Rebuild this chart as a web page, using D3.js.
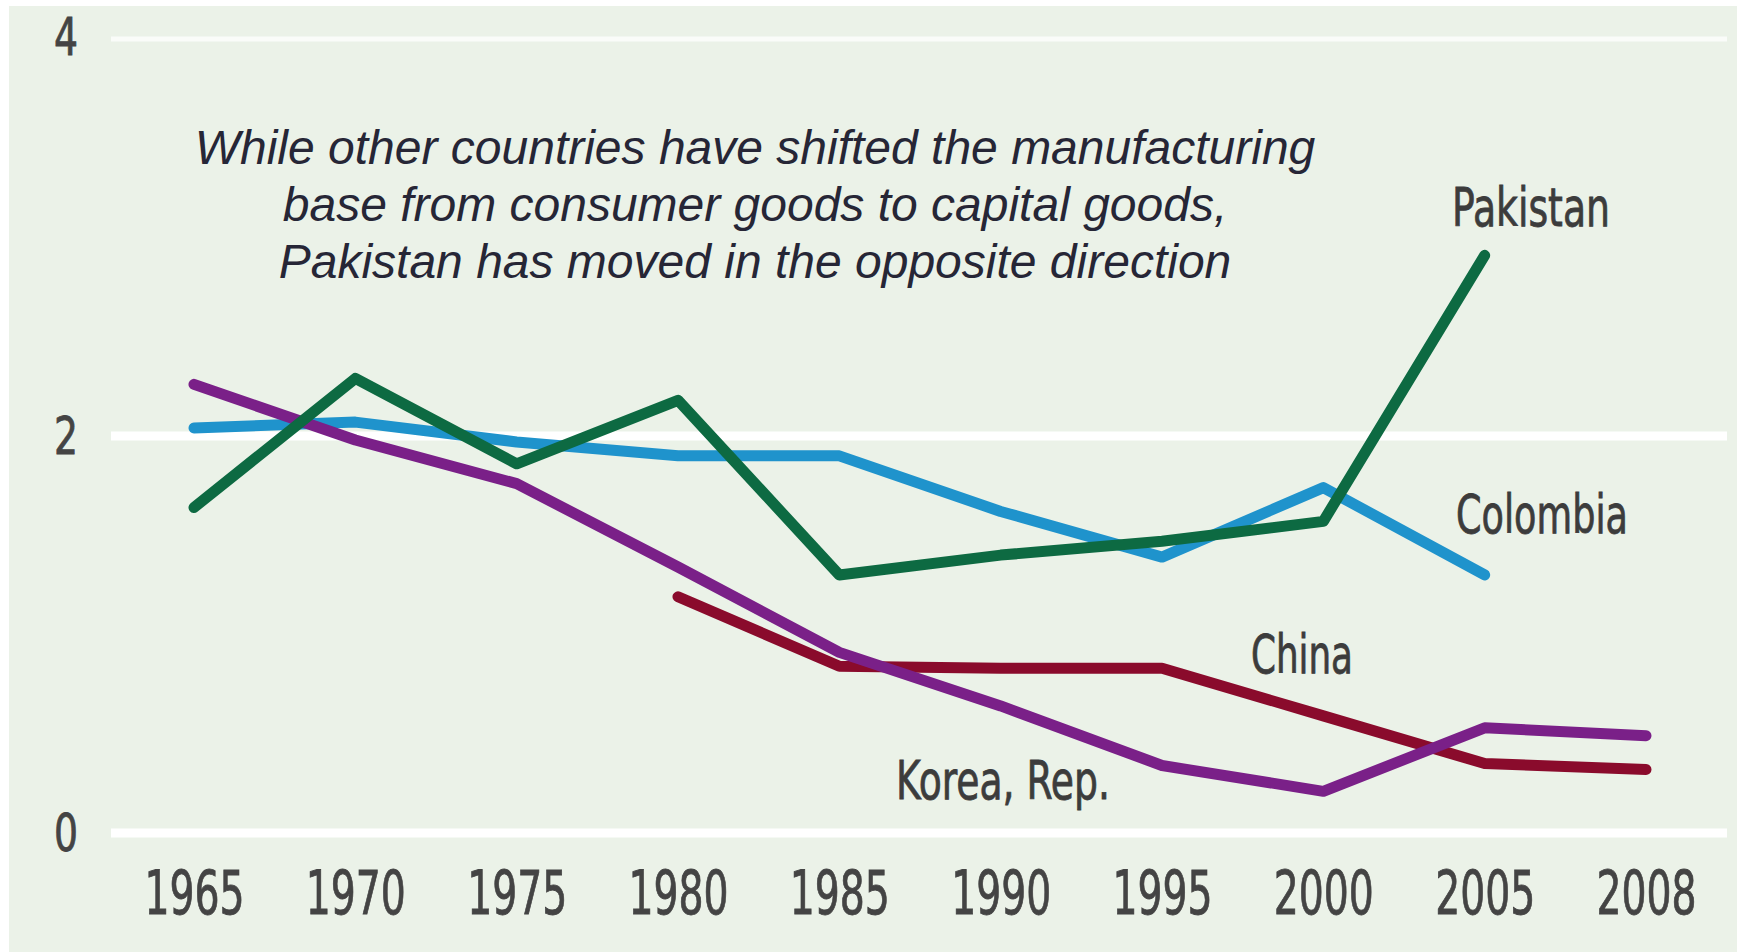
<!DOCTYPE html>
<html>
<head>
<meta charset="utf-8">
<script src="https://cdn.jsdelivr.net/npm/d3@7"></script>
<style>
  html, body { margin: 0; padding: 0; background: #ffffff; }
  svg { display: block; }
</style>
</head>
<body>
<svg id="chart" width="1737" height="952"></svg>
<script>
// ---- data ----
const years = ["1965", "1970", "1975", "1980", "1985", "1990", "1995", "2000", "2005", "2008"];
const yTicks = [0, 2, 4];
const pakistan = [1.64, 2.29, 1.86, 2.18, 1.30, 1.40, 1.47, 1.57, 2.91, null];
const colombia = [2.04, 2.07, 1.97, 1.90, 1.90, 1.62, 1.39, 1.74, 1.30, null];
const korea    = [2.26, 1.98, 1.76, 1.34, 0.91, 0.64, 0.34, 0.21, 0.53, 0.49];
const china    = [null, null, null, 1.19, 0.84, 0.83, 0.83, 0.59, 0.35, 0.32];
const seriesNames = ["China", "Colombia", "Korea, Rep.", "Pakistan"];
const seriesColors = ["#8a0b2c", "#1f93cc", "#7a2088", "#0d6a42"];
const annotation = [
  "While other countries have shifted the manufacturing",
  "base from consumer goods to capital goods,",
  "Pakistan has moved in the opposite direction"
];

const seriesValues = [china, colombia, korea, pakistan];

const svg = d3.select("#chart");
const W = 1737, H = 952;

// background panel
svg.append("rect").attr("x", 9).attr("y", 6).attr("width", W - 9).attr("height", H - 6)
  .attr("fill", "#ebf2e8");

const x = d3.scalePoint().domain(years).range([194, 1646]);
const y = d3.scaleLinear().domain([0, 4]).range([833, 39]);

const narrow = "'Liberation Sans Narrow', 'Arial Narrow', 'DejaVu Sans Condensed', sans-serif";

// gridlines
const grid = svg.append("g");
yTicks.forEach(t => {
  grid.append("line")
    .attr("x1", 111).attr("x2", 1727)
    .attr("y1", y(t)).attr("y2", y(t))
    .attr("stroke", "#ffffff")
    .attr("stroke-width", t === 4 ? 5 : 9)
    .attr("stroke-opacity", t === 4 ? 0.75 : 1);
});

// y axis (labels only)
const yAxis = d3.axisLeft(y).tickValues(yTicks).tickSize(0).tickPadding(0).tickFormat(d3.format("d"));
const yg = svg.append("g").attr("transform", "translate(80,0)").call(yAxis);
yg.select(".domain").remove();
yg.selectAll("text")
  .attr("font-family", narrow).attr("font-size", 52).attr("fill", "#444444")
  .attr("stroke", "#444444").attr("stroke-width", 0.8)
  .attr("text-anchor", "middle").attr("x", -14).attr("dy", "0.34em")
  .attr("textLength", 24).attr("lengthAdjust", "spacingAndGlyphs");
yg.selectAll(".tick").filter(d => d === 4).select("text").attr("dy", "0.3em");

// x axis (labels only)
const xAxis = d3.axisBottom(x).tickSize(0).tickPadding(0);
const xg = svg.append("g").attr("transform", "translate(0,914)").call(xAxis);
xg.select(".domain").remove();
xg.selectAll("text")
  .attr("font-family", narrow).attr("font-size", 60).attr("fill", "#444444")
  .attr("stroke", "#444444").attr("stroke-width", 0.8)
  .attr("dy", 0).attr("y", 0)
  .attr("textLength", 100).attr("lengthAdjust", "spacingAndGlyphs");

// lines
const line = d3.line()
  .defined(d => d.v !== null)
  .x(d => x(d.year))
  .y(d => y(d.v));

seriesValues.forEach((vals, i) => {
  const pts = years.map((yr, j) => ({ year: yr, v: vals[j] }));
  svg.append("path")
    .datum(pts)
    .attr("d", line)
    .attr("fill", "none")
    .attr("stroke", seriesColors[i])
    .attr("stroke-width", 11)
    .attr("stroke-linecap", "round")
    .attr("stroke-linejoin", "round");
});

// series labels
const labels = [
  { name: "Pakistan", x: 1531, y: 226, w: 158 },
  { name: "Colombia", x: 1542, y: 533, w: 172 },
  { name: "China", x: 1302, y: 673, w: 102 },
  { name: "Korea, Rep.", x: 1003, y: 799, w: 214 }
];
svg.append("g").selectAll("text").data(labels).join("text")
  .attr("x", d => d.x).attr("y", d => d.y)
  .attr("text-anchor", "middle")
  .attr("font-family", narrow).attr("font-size", 54).attr("fill", "#3c3c3c")
  .attr("stroke", "#3c3c3c").attr("stroke-width", 0.8)
  .attr("textLength", d => d.w).attr("lengthAdjust", "spacingAndGlyphs")
  .text(d => d.name);

// annotation
svg.append("g").selectAll("text").data(annotation).join("text")
  .attr("x", 755).attr("y", (d, i) => 164 + i * 57)
  .attr("text-anchor", "middle")
  .attr("font-family", "'Liberation Sans', Arial, sans-serif")
  .attr("font-style", "italic")
  .attr("font-size", 48)
  .attr("fill", "#262636")
  .text(d => d);
</script>
</body>
</html>
